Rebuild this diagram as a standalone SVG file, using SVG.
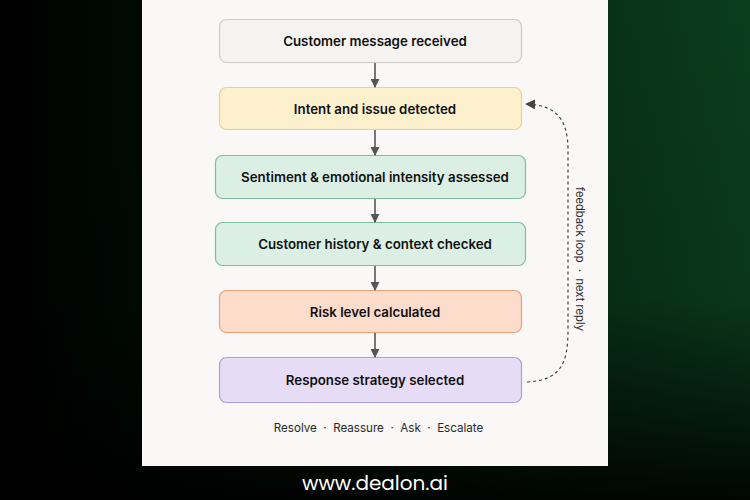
<svg xmlns="http://www.w3.org/2000/svg" width="750" height="500" viewBox="0 0 750 500">
<defs>
<linearGradient id="bgH" x1="0" y1="0" x2="1" y2="0">
<stop offset="0" stop-color="#000000"/>
<stop offset="0.18" stop-color="#010a04"/>
<stop offset="0.5" stop-color="#04200e"/>
<stop offset="1" stop-color="#0b3d1d"/>
</linearGradient>
<linearGradient id="bgV" x1="0" y1="0" x2="0" y2="1">
<stop offset="0" stop-color="#000" stop-opacity="0"/>
<stop offset="0.6" stop-color="#000" stop-opacity="0.1"/>
<stop offset="1" stop-color="#000" stop-opacity="0.9"/>
</linearGradient>
<marker id="ah" viewBox="0 0 10 10" refX="9" refY="5" markerWidth="9" markerHeight="9" markerUnits="userSpaceOnUse" orient="auto">
<path d="M0,0 L10,5 L0,10 Z" fill="#555"/>
</marker>
<marker id="ah2" viewBox="0 0 10 10" refX="9" refY="5" markerWidth="10" markerHeight="10" markerUnits="userSpaceOnUse" orient="auto">
<path d="M0,0 L10,5 L0,10 Z" fill="#444"/>
</marker>
<style>
.lbl{font-family:Inter,"Liberation Sans",sans-serif;font-size:13.3px;font-weight:600;fill:#111;text-anchor:middle;dominant-baseline:central}
.box{stroke-width:1.2}
.conn{stroke:#555;stroke-width:1.6;fill:none}
.small{font-family:Inter,"Liberation Sans",sans-serif;font-size:11.5px;fill:#2a2a2a;text-anchor:middle;dominant-baseline:central}
</style>
</defs>
<rect x="0" y="0" width="750" height="500" fill="url(#bgH)"/>
<rect x="0" y="0" width="750" height="500" fill="url(#bgV)"/>
<rect x="142" y="0" width="466" height="466" fill="#f9f8f6"/>

<g id="n1"><rect class="box" x="219.5" y="19.5" width="302" height="43" rx="7" fill="#f5f3f0" stroke="#cfcac3"/><text class="lbl" x="375" y="41">Customer message received</text></g>
<g id="n2"><rect class="box" x="219.5" y="87.5" width="302" height="42" rx="7" fill="#fdf0cd" stroke="#efd185"/><text class="lbl" x="375" y="108.5">Intent and issue detected</text></g>
<g id="n3"><rect class="box" x="215.5" y="155.5" width="310" height="43" rx="7" fill="#dcefe4" stroke="#7bbf9d"/><text class="lbl" x="375" y="177">Sentiment &amp; emotional intensity assessed</text></g>
<g id="n4"><rect class="box" x="215.5" y="222.5" width="310" height="43" rx="7" fill="#dcefe4" stroke="#7bbf9d"/><text class="lbl" x="375" y="244">Customer history &amp; context checked</text></g>
<g id="n5"><rect class="box" x="219.5" y="290.5" width="302" height="42" rx="7" fill="#fddccb" stroke="#eda07b"/><text class="lbl" x="375" y="311.5">Risk level calculated</text></g>
<g id="n6"><rect class="box" x="219.5" y="357.5" width="302" height="45" rx="7" fill="#e6dcf5" stroke="#b39bdb"/><text class="lbl" x="375" y="380">Response strategy selected</text></g>

<g id="connectors">
<line class="conn" x1="375" y1="63" x2="375" y2="87" marker-end="url(#ah)"/>
<line class="conn" x1="375" y1="130" x2="375" y2="155" marker-end="url(#ah)"/>
<line class="conn" x1="375" y1="199" x2="375" y2="222" marker-end="url(#ah)"/>
<line class="conn" x1="375" y1="266" x2="375" y2="290" marker-end="url(#ah)"/>
<line class="conn" x1="375" y1="333" x2="375" y2="357" marker-end="url(#ah)"/>
<path d="M527,382 C560,380 568,365 568,330 L568,150 C568,118 555,105 526,104" fill="none" stroke="#444" stroke-width="1.2" stroke-dasharray="3,3" marker-end="url(#ah2)"/>
</g>
<text class="small" xml:space="preserve" transform="translate(580,259) rotate(90)" style="font-size:11.2px">feedback loop  ·  next reply</text>
<text class="small" xml:space="preserve" x="378.5" y="428" style="font-size:11.6px">Resolve  ·  Reassure  ·  Ask  ·  Escalate</text>
<text x="375" y="483" font-family="Poppins,Inter,'Liberation Sans',sans-serif" font-size="20" font-weight="400" fill="#ffffff" text-anchor="middle" dominant-baseline="central">www.dealon.ai</text>
</svg>
